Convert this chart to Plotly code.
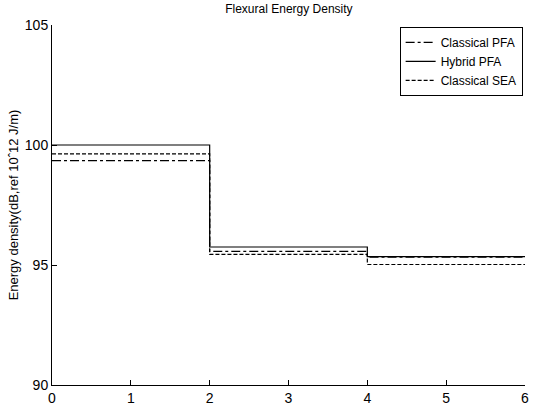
import plotly.graph_objects as go

# Segment edges along the structure (x) and energy density levels per segment (dB)
x_edges = [0, 2, 4, 6]
hybrid_pfa = [100.0, 95.75, 95.35]
classical_pfa = [99.35, 95.57, 95.33]
classical_sea = [99.63, 95.44, 95.02]

series = [
    ("Classical PFA", classical_pfa, "dashdot"),
    ("Hybrid PFA", hybrid_pfa, "solid"),
    ("Classical SEA", classical_sea, "4px,2px"),
]

fig = go.Figure()
for name, vals, dash in series:
    fig.add_trace(go.Scatter(
        x=x_edges, y=vals + [vals[-1]], mode="lines", name=name,
        line=dict(color="black", width=1.2, dash=dash, shape="hv"),
    ))

font = dict(family="Liberation Sans, Arial, sans-serif", size=14, color="black")
fig.update_layout(
    width=535, height=412,
    margin=dict(l=52, r=6, t=25, b=21),
    plot_bgcolor="white", paper_bgcolor="white",
    font=font,
    title=dict(text="Flexural Energy Density", x=0.54, xanchor="center",
               y=0.988, yanchor="top", font=dict(size=12)),
    legend=dict(x=0.995, y=0.995, xanchor="right", yanchor="top",
                bordercolor="black", borderwidth=1, bgcolor="white",
                font=dict(size=12), tracegroupgap=0, itemwidth=30),
    showlegend=True,
)
fig.update_xaxes(range=[0, 6], tickvals=[0, 1, 2, 3, 4, 5, 6],
                 showline=True, linecolor="black", linewidth=1, mirror=False,
                 ticks="inside", ticklen=5, tickcolor="black", showgrid=False,
                 zeroline=False, tickfont=dict(size=14))
fig.update_yaxes(range=[90, 105], tickvals=[90, 95, 100, 105],
                 showline=True, linecolor="black", linewidth=1, mirror=False,
                 ticks="inside", ticklen=5, tickcolor="black", showgrid=False,
                 zeroline=False, tickfont=dict(size=14),
                 title=dict(text="Energy density(dB,ref 10ˆ12 J/m)", standoff=3,
                            font=dict(size=13)))

fig.write_html("out.html")
